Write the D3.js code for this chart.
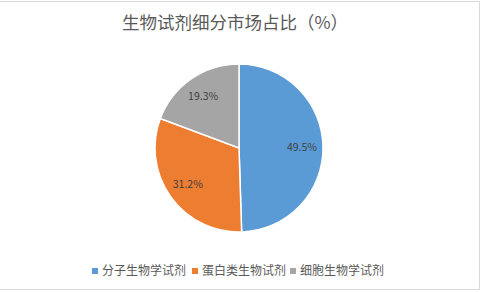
<!DOCTYPE html>
<html lang="zh">
<head>
<meta charset="UTF-8">
<title>生物试剂细分市场占比</title>
<style>
  body { margin: 0; background: #fff; }
  text { font-family: "Noto Sans CJK SC", "Noto Sans", sans-serif; }
</style>
</head>
<body>
<div id="chart"></div>
<script src="https://d3js.org/d3.v7.min.js"></script>
<script>
  // 数据
  const CATEGORIES = ["分子生物学试剂", "蛋白类生物试剂", "细胞生物学试剂"];
  const VALUES = [49.5, 31.2, 19.3];
  const COLORS = ["#5b9bd5", "#ed7d31", "#a5a5a5"];
  const TITLE = "生物试剂细分市场占比（%）";

  const W = 481, H = 292;
  const CX = 239, CY = 148, R = 84;

  const svg = d3.select("#chart").append("svg")
    .attr("width", W).attr("height", H);

  // 图表边框
  svg.append("path")
    .attr("d", `M0,1.5 H479.5 V289.5 H0`)
    .attr("fill", "none").attr("stroke", "#d9d9d9").attr("stroke-width", 1);

  // 标题
  svg.append("text")
    .attr("x", 235).attr("y", 29)
    .attr("text-anchor", "middle")
    .attr("font-size", 17.5)
    .attr("fill", "#595959")
    .text(TITLE);

  const pie = d3.pie().sort(null).value(d => d)(VALUES);
  const arc = d3.arc().innerRadius(0).outerRadius(R);
  const labelArc = d3.arc().innerRadius(R * 0.75).outerRadius(R * 0.75);

  const g = svg.append("g").attr("transform", `translate(${CX},${CY})`);

  g.selectAll("path.slice")
    .data(pie).enter().append("path")
    .attr("class", "slice")
    .attr("d", arc)
    .attr("fill", (d, i) => COLORS[i])
    .attr("stroke", "#fff").attr("stroke-width", 1.5);

  g.selectAll("text.lbl")
    .data(pie).enter().append("text")
    .attr("class", "lbl")
    .attr("transform", d => `translate(${labelArc.centroid(d)})`)
    .attr("text-anchor", "middle")
    .attr("dy", "0.35em")
    .attr("font-size", 10.5)
    .attr("fill", "#404040")
    .text(d => d.value.toFixed(1) + "%");

  // 图例
  const legendX = [92, 192, 290];
  const lg = svg.append("g");
  const item = lg.selectAll("g").data(CATEGORIES).enter().append("g")
    .attr("transform", (d, i) => `translate(${legendX[i]},271)`);
  item.append("rect")
    .attr("x", 0).attr("y", -3).attr("width", 6).attr("height", 6)
    .attr("fill", (d, i) => COLORS[i]);
  item.append("text")
    .attr("x", 10).attr("dy", "0.35em")
    .attr("font-size", 12)
    .attr("fill", "#595959")
    .text(d => d);
</script>
</body>
</html>
